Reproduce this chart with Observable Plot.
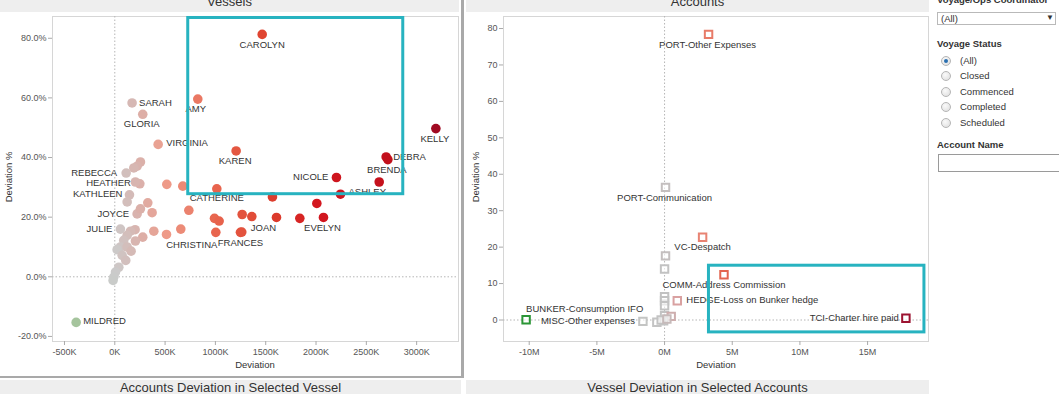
<!DOCTYPE html>
<html><head><meta charset="utf-8">
<script src="https://cdn.jsdelivr.net/npm/d3@7"></script>
<script src="https://cdn.jsdelivr.net/npm/@observablehq/plot@0.6"></script>
<style>
body{margin:0;background:#fff;}
#root{position:relative;width:1059px;height:394px;overflow:hidden;font-family:"Liberation Sans",Arial,sans-serif;color:#333;background:#fff;}
.abs{position:absolute;}
.hdr{position:absolute;background:#eeeeee;text-align:center;font-size:13px;color:#333;white-space:nowrap;}
.ttl{position:absolute;font-size:9.5px;color:#333;white-space:nowrap;}
.flt{position:absolute;font-size:9.5px;color:#333;white-space:nowrap;}
.fb{font-weight:bold;}
.radio{position:absolute;width:8px;height:8px;border-radius:50%;border:1px solid #b5b5b5;background:radial-gradient(circle at 40% 35%,#fafafa,#dcdcdc);}
.radio.on::after{content:"";position:absolute;left:2px;top:2px;width:4px;height:4px;border-radius:50%;background:#2a6fb0;}
</style></head><body>
<div id="root">
  <div class="abs" id="leftPanel" style="left:0;top:0;width:461px;height:376px;border-right:3px solid #a9a9a9;border-bottom:2px solid #a9a9a9;box-sizing:content-box;"></div>
  <div class="hdr" style="left:0;top:-8px;width:459px;height:20px;line-height:20px;">Vessels</div>
  <div class="hdr" style="left:466px;top:-8px;width:463px;height:20px;line-height:20px;">Accounts</div>
  <div class="abs" id="leftChart" style="left:0;top:0;"></div>
  <div class="abs" id="rightChart" style="left:466px;top:0;"></div>
  <div class="ttl" style="left:8px;top:177px;transform:translate(-50%,-50%) rotate(-90deg);">Deviation %</div>
  <div class="ttl" style="left:255px;top:364px;transform:translate(-50%,-50%);">Deviation</div>
  <div class="ttl" style="left:475px;top:177px;transform:translate(-50%,-50%) rotate(-90deg);">Deviation %</div>
  <div class="ttl" style="left:716px;top:364px;transform:translate(-50%,-50%);">Deviation</div>
  <div class="hdr" style="left:0;top:380px;width:461px;height:20px;line-height:16px;">Accounts Deviation in Selected Vessel</div>
  <div class="hdr" style="left:466px;top:380px;width:463px;height:20px;line-height:16px;">Vessel Deviation in Selected Accounts</div>

  <div class="flt fb" style="left:937px;top:-6px;">Voyage/Ops Coordinator</div>
  <div class="abs" style="left:937px;top:12px;width:117px;height:11px;border:1px solid #b9b9b9;background:#fff;"></div>
  <div class="flt" style="left:941px;top:13px;">(All)</div>
  <div class="flt" style="left:1046px;top:13px;font-size:8px;">▼</div>
  <div class="flt fb" style="left:937px;top:38px;">Voyage Status</div>
  <div class="radio on" style="left:941px;top:56px;"></div><div class="flt" style="left:960px;top:55px;">(All)</div>
  <div class="radio" style="left:941px;top:71px;"></div><div class="flt" style="left:960px;top:70px;">Closed</div>
  <div class="radio" style="left:941px;top:87px;"></div><div class="flt" style="left:960px;top:86px;">Commenced</div>
  <div class="radio" style="left:941px;top:102px;"></div><div class="flt" style="left:960px;top:101px;">Completed</div>
  <div class="radio" style="left:941px;top:118px;"></div><div class="flt" style="left:960px;top:117px;">Scheduled</div>
  <div class="flt fb" style="left:937px;top:139px;">Account Name</div>
  <div class="abs" style="left:938px;top:154px;width:130px;height:16px;border:1px solid #9a9a9a;background:#fff;"></div>
</div>
<script>
// ---- Vessels (deviation in K, deviation %) ----
const vesselName = ["CAROLYN","SARAH","AMY","GLORIA","VIRGINIA","KAREN","KELLY","DEBRA","BRENDA","NICOLE","ASHLEY","CATHERINE","JOAN","EVELYN","FRANCES","CHRISTINA","REBECCA","HEATHER","KATHLEEN","JOYCE","JULIE","MILDRED",
  "","","","","","","","","","","","","","","","","","","","","","","","","","","","","","","","","","","","","","",""];
const vesselDevK = [1465,172,825,278,431,1206,3191,2697,2714,2203,2243,1014,1607,2074,1249,1004,113,249,146,222,56,-384,
  255,222,189,205,123,328,255,371,202,156,123,278,205,388,514,656,89,56,23,123,162,73,109,40,7,-10,-17,517,676,736,991,1037,1266,1362,1262,1567,1839,2008,2628];
const vesselPct = [81.3,58.3,59.6,54.5,44.4,42.2,49.7,40.2,39.3,33.3,27.7,29.5,19.9,19.9,14.9,14.9,34.8,31.2,27.5,21.1,16.0,-15.3,
  38.5,37.1,36.5,31.8,25.1,24.8,22.8,21.5,15.8,15.3,13.9,13.3,12.0,15.3,14.2,16.0,12.2,10.0,9.1,10.0,8.6,7.2,5.5,3.2,1.6,-0.1,-1.2,31.0,30.4,22.3,19.6,18.7,20.9,20.2,15.0,26.8,19.6,24.6,31.8];
const vesselXTicks = [-500,0,500,1000,1500,2000,2500,3000];
const vesselYTicks = [-20,0,20,40,60,80];
const vesselSelection = {x1:730, x2:2867, y1:27.7, y2:86.8};

// ---- Accounts (deviation in M, deviation %) ----
const accountName = ["PORT-Other Expenses","PORT-Communication","VC-Despatch","COMM-Address Commission","HEDGE-Loss on Bunker hedge","TCI-Charter hire paid","BUNKER-Consumption IFO","MISC-Other expenses",
  "","","","","","","","","","",""];
const accountDevM = [3.25,0.07,2.81,4.39,0.94,17.83,-10.23,-1.60, 0.07,0.0,0.0,0.0,0.0,0.0,0.49,-0.07,-0.57,-0.25,0.17];
const accountPct = [78.4,36.4,22.7,12.4,5.3,0.46,0.09,-0.37, 17.6,14.0,6.4,5.3,3.9,1.2,1.0,-0.2,-0.64,0.0,0.27];
const accountXTicks = [-10,-5,0,5,10,15];
const accountYTicks = [0,10,20,30,40,50,60,70,80];
const accountSelection = {x1:3.28, x2:19.2, y1:-3.4, y2:14.9};

// ---- styles ----
const FONT = "'Liberation Sans', Arial, sans-serif";
const vColor = d3.scaleLinear()
  .domain([-400,0,250,500,1000,1500,2000,2700,3200])
  .range(["#a3c49b","#cbcbcb","#dbb0aa","#ee9c8a","#e8654e","#df432f","#d3171f","#c3101c","#9f0a22"]);
const aColor = d3.scaleLinear()
  .domain([-10,-1.5,0,0.3,0.9,3,4.4,18])
  .range(["#2f963a","#c6c6c6","#c2c2c2","#c9b4b4","#d9a2a2","#e9806e","#e3654f","#9b1231"]);
const vesselPlace = {
  CAROLYN:{a:"middle",dx:0,dy:10.5}, SARAH:{a:"start",dx:7,dy:0}, AMY:{a:"middle",dx:-2,dy:10},
  GLORIA:{a:"middle",dx:-1,dy:10}, VIRGINIA:{a:"start",dx:8,dy:-1}, KAREN:{a:"middle",dx:-1,dy:10},
  KELLY:{a:"middle",dx:-1,dy:10.5}, DEBRA:{a:"start",dx:7,dy:0}, BRENDA:{a:"middle",dx:-1,dy:10.5},
  NICOLE:{a:"end",dx:-8,dy:-1}, ASHLEY:{a:"start",dx:8,dy:-2}, CATHERINE:{a:"middle",dx:0,dy:9.5},
  JOAN:{a:"middle",dx:-13,dy:10}, EVELYN:{a:"middle",dx:-1,dy:10.5}, FRANCES:{a:"middle",dx:0,dy:10.5},
  CHRISTINA:{a:"middle",dx:-24,dy:12.5}, REBECCA:{a:"end",dx:-9,dy:0}, HEATHER:{a:"end",dx:-9,dy:-1},
  KATHLEEN:{a:"end",dx:-7,dy:-1}, JOYCE:{a:"end",dx:-8,dy:0}, JULIE:{a:"end",dx:-8,dy:0}, MILDRED:{a:"start",dx:7,dy:-1}
};
const accountPlace = {
  "PORT-Other Expenses":{a:"middle",dx:-1,dy:10.5}, "PORT-Communication":{a:"middle",dx:-1,dy:10.5},
  "VC-Despatch":{a:"middle",dx:0,dy:10}, "COMM-Address Commission":{a:"middle",dx:0,dy:10.5},
  "HEDGE-Loss on Bunker hedge":{a:"start",dx:9,dy:-1}, "TCI-Charter hire paid":{a:"end",dx:-7,dy:0},
  "BUNKER-Consumption IFO":{a:"start",dx:0,dy:-11}, "MISC-Other expenses":{a:"end",dx:-8,dy:0}
};

const vessels = vesselName.map((n,i)=>({name:n, dev:vesselDevK[i], pct:vesselPct[i]}));
const accounts = accountName.map((n,i)=>({name:n, dev:accountDevM[i], pct:accountPct[i]}));

const axisStyle = {fontFamily:FONT, fontSize:"9px", color:"#555", background:"transparent", overflow:"visible"};

function labelMarks(data, place){
  return data.filter(d=>d.name).map(d=>{
    const p = place[d.name];
    return Plot.text([d], {x:"dev", y:"pct", text:"name", textAnchor:p.a, dx:p.dx, dy:p.dy, fontSize:9.5, fill:"#333", fontFamily:FONT});
  });
}

const left = Plot.plot({
  width:462, height:372, marginLeft:52, marginRight:4, marginTop:16, marginBottom:31,
  x:{domain:[-619,3416]}, y:{domain:[-21.7,87.3]},
  style:axisStyle,
  marks:[
    Plot.frame({stroke:"#d6d6d6"}),
    Plot.ruleX([0],{stroke:"#b5b5b5", strokeDasharray:"1.5,2"}),
    Plot.ruleY([0],{stroke:"#b5b5b5", strokeDasharray:"1.5,2"}),
    Plot.axisX({ticks:vesselXTicks, tickFormat:d=>d+"K", tickSize:4, tickPadding:3, label:null, stroke:"#aaa"}),
    Plot.axisY({ticks:vesselYTicks, tickFormat:d=>d.toFixed(1)+"%", tickSize:4, tickPadding:2, label:null, stroke:"#aaa"}),
    Plot.dot(vessels,{x:"dev", y:"pct", r:4.8, fill:d=>vColor(d.dev), stroke:"none"}),
    ...labelMarks(vessels, vesselPlace),
    Plot.rect([vesselSelection],{x1:"x1",x2:"x2",y1:"y1",y2:"y2", fill:"none", stroke:"#27b3c0", strokeWidth:3})
  ]
});
document.getElementById("leftChart").append(left);

const right = Plot.plot({
  width:466, height:372, marginLeft:37, marginRight:4, marginTop:16, marginBottom:31,
  x:{domain:[-11.9,19.5]}, y:{domain:[-5.9,83.3]},
  style:axisStyle,
  marks:[
    Plot.frame({stroke:"#d6d6d6"}),
    Plot.ruleX([0],{stroke:"#b5b5b5", strokeDasharray:"1.5,2"}),
    Plot.ruleY([0],{stroke:"#b5b5b5", strokeDasharray:"1.5,2"}),
    Plot.axisX({ticks:accountXTicks, tickFormat:d=>d+"M", tickSize:4, tickPadding:3, label:null, stroke:"#aaa"}),
    Plot.axisY({ticks:accountYTicks, tickFormat:d=>String(d), tickSize:4, tickPadding:2, label:null, stroke:"#aaa"}),
    Plot.dot(accounts,{x:"dev", y:"pct", symbol:"square", r:4.2, fill:"#fff", fillOpacity:0.6, stroke:d=>aColor(d.dev), strokeWidth:2}),
    ...labelMarks(accounts, accountPlace),
    Plot.rect([accountSelection],{x1:"x1",x2:"x2",y1:"y1",y2:"y2", fill:"none", stroke:"#27b3c0", strokeWidth:3})
  ]
});
document.getElementById("rightChart").append(right);
</script>
</body></html>
